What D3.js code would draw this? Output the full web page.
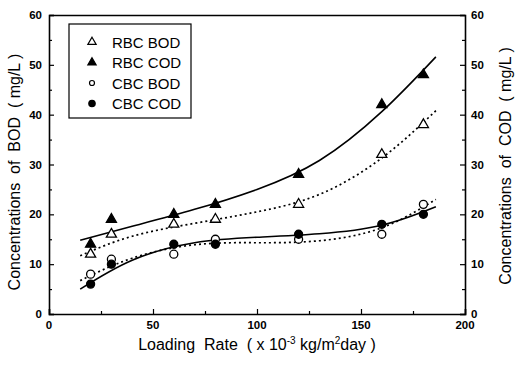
<!DOCTYPE html>
<html>
<head>
<meta charset="utf-8">
<style>
body { margin: 0; background: #fff; }
svg text { font-family: Arial, "Liberation Sans", sans-serif; fill: #000; white-space: pre; }
.tick-label { font-size: 11.5px; font-weight: bold; }
.axis-title { font-size: 16px; }
.legend text { font-size: 15px; }
</style>
</head>
<body>
<svg id="chart" width="520" height="365"></svg>
<script src="https://cdn.jsdelivr.net/npm/d3@7"></script>
<script>
// measured points
const loading = [20, 30, 60, 80, 120, 160, 180];
const rbcBod = [12, 16, 18, 19, 22, 32, 38];
const rbcCod = [14, 19, 20, 22, 28, 42, 48];
const cbcBod = [8, 11, 12, 15, 15, 16, 22];
const cbcCod = [6, 10, 14, 14, 16, 18, 20];

// fitted curves
const fitX = [15, 40, 70, 100, 130, 160, 186];
const rbcCodFit = [14.8, 17.6, 21.0, 25.0, 30.8, 40.6, 51.6];
const rbcBodFit = [11.7, 15.6, 18.2, 20.5, 24.0, 31.3, 40.8];
const cbcCodFit = [5.0, 10.8, 14.3, 15.4, 16.1, 17.8, 21.5];
const cbcBodFit = [6.7, 11.2, 13.9, 14.3, 14.7, 17.3, 23.0];

const xTicks = [0, 50, 100, 150, 200];
const yTicks = [0, 10, 20, 30, 40, 50, 60];

const svg = d3.select('#chart');
const mLeft = 49, mRight = 465, mTop = 15, mBottom = 314;

const x = d3.scaleLinear().domain([0, 200]).range([mLeft, mRight]);
const y = d3.scaleLinear().domain([0, 60]).range([mBottom, mTop]);

// axes, ticks inward
const gx = svg.append('g').attr('transform', `translate(0,${mBottom})`)
  .call(d3.axisBottom(x).tickValues(d3.range(0, 201, 25)).tickSize(-5).tickFormat(''));
const gxt = svg.append('g').attr('transform', `translate(0,${mTop})`)
  .call(d3.axisTop(x).tickValues([]).tickSizeOuter(0));
const gl = svg.append('g').attr('transform', `translate(${mLeft},0)`)
  .call(d3.axisLeft(y).tickValues(d3.range(0, 61, 5)).tickSize(-5).tickFormat(''));
const gr = svg.append('g').attr('transform', `translate(${mRight},0)`)
  .call(d3.axisRight(y).tickValues(d3.range(0, 61, 5)).tickSize(-5).tickFormat(''));

[gx, gxt, gl, gr].forEach(g => {
  g.select('.domain').attr('stroke', '#000').attr('stroke-width', 1.6);
  g.selectAll('.tick line').attr('stroke', '#000').attr('stroke-width', 1.2);
});
// minor ticks shorter
gx.selectAll('.tick line').attr('y2', d => d % 50 ? -3 : -5);
gl.selectAll('.tick line').attr('x2', d => d % 10 ? 3 : 5);
gr.selectAll('.tick line').attr('x2', d => d % 10 ? -3 : -5);

// tick labels
svg.selectAll('.xl').data(xTicks).join('text')
  .attr('class', 'tick-label')
  .attr('x', d => x(d)).attr('y', mBottom + 15)
  .attr('text-anchor', 'middle').text(d => d);
svg.selectAll('.yl').data(yTicks).join('text')
  .attr('class', 'tick-label')
  .attr('x', mLeft - 7).attr('y', d => y(d) + 4)
  .attr('text-anchor', 'end').text(d => d);
svg.selectAll('.yr').data(yTicks).join('text')
  .attr('class', 'tick-label')
  .attr('x', mRight + 6).attr('y', d => y(d) + 4)
  .attr('text-anchor', 'start').text(d => d);

// axis titles
const xt = svg.append('text').attr('class', 'axis-title')
  .attr('x', 257).attr('y', 350).attr('text-anchor', 'middle');
xt.append('tspan').text('Loading  Rate  ( x 10');
xt.append('tspan').attr('dy', -6).attr('font-size', 10).text('-3');
xt.append('tspan').attr('dy', 6).text(' kg/m');
xt.append('tspan').attr('dy', -6).attr('font-size', 10).text('2');
xt.append('tspan').attr('dy', 6).text('day )');

svg.append('text').attr('class', 'axis-title')
  .attr('transform', `translate(20,172) rotate(-90)`)
  .attr('text-anchor', 'middle')
  .text('Concentrations  of  BOD  ( mg/L )');
svg.append('text').attr('class', 'axis-title')
  .attr('transform', `translate(511,166) rotate(-90)`)
  .attr('text-anchor', 'middle')
  .text('Concentrations  of  COD  ( mg/L )');

// fitted lines
const line = d3.line().x(d => x(d[0])).y(d => y(d[1])).curve(d3.curveNatural);
const fits = [
  {vals: rbcCodFit, dash: null},
  {vals: rbcBodFit, dash: '2,3'},
  {vals: cbcCodFit, dash: null},
  {vals: cbcBodFit, dash: '2,3'}
];
fits.forEach(f => {
  svg.append('path')
    .datum(fitX.map((v, i) => [v, f.vals[i]]))
    .attr('d', line)
    .attr('fill', 'none')
    .attr('stroke', '#000')
    .attr('stroke-width', f.dash ? 1.7 : 1.6)
    .attr('stroke-dasharray', f.dash);
});

// markers
const tri = d3.symbol().type(d3.symbolTriangle).size(44);
function drawMarkers(vals, shape, filled) {
  const pts = loading.map((v, i) => [v, vals[i]]);
  if (shape === 'tri') {
    svg.selectAll(null).data(pts).join('path')
      .attr('d', tri)
      .attr('transform', d => `translate(${x(d[0])},${y(d[1])})`)
      .attr('fill', filled ? '#000' : '#fff')
      .attr('stroke', '#000').attr('stroke-width', 1.3);
  } else {
    svg.selectAll(null).data(pts).join('circle')
      .attr('cx', d => x(d[0])).attr('cy', d => y(d[1])).attr('r', 4)
      .attr('fill', filled ? '#000' : '#fff')
      .attr('stroke', '#000').attr('stroke-width', 1.3);
  }
}
drawMarkers(rbcBod, 'tri', false);
drawMarkers(rbcCod, 'tri', true);
drawMarkers(cbcBod, 'circle', false);
drawMarkers(cbcCod, 'circle', true);

// legend
const legendItems = [
  {name: 'RBC BOD', shape: 'tri', filled: false},
  {name: 'RBC COD', shape: 'tri', filled: true},
  {name: 'CBC BOD', shape: 'circle', filled: false},
  {name: 'CBC COD', shape: 'circle', filled: true}
];
const lg = svg.append('g').attr('class', 'legend');
lg.append('rect').attr('x', 69).attr('y', 24).attr('width', 122).attr('height', 94)
  .attr('fill', '#fff').attr('stroke', '#000').attr('stroke-width', 1.2);
legendItems.forEach((d, i) => {
  const cy = 42 + i * 20.5;
  if (d.shape === 'tri') {
    lg.append('path').attr('d', d3.symbol().type(d3.symbolTriangle).size(30))
      .attr('transform', `translate(92,${cy})`)
      .attr('fill', d.filled ? '#000' : '#fff').attr('stroke', '#000').attr('stroke-width', 1.2);
  } else {
    lg.append('circle').attr('cx', 92).attr('cy', cy).attr('r', d.filled ? 3.2 : 2.5)
      .attr('fill', d.filled ? '#000' : '#fff').attr('stroke', '#000').attr('stroke-width', 1.2);
  }
  lg.append('text').attr('x', 112).attr('y', cy + 5.5).text(d.name);
});
</script>
</body>
</html>
